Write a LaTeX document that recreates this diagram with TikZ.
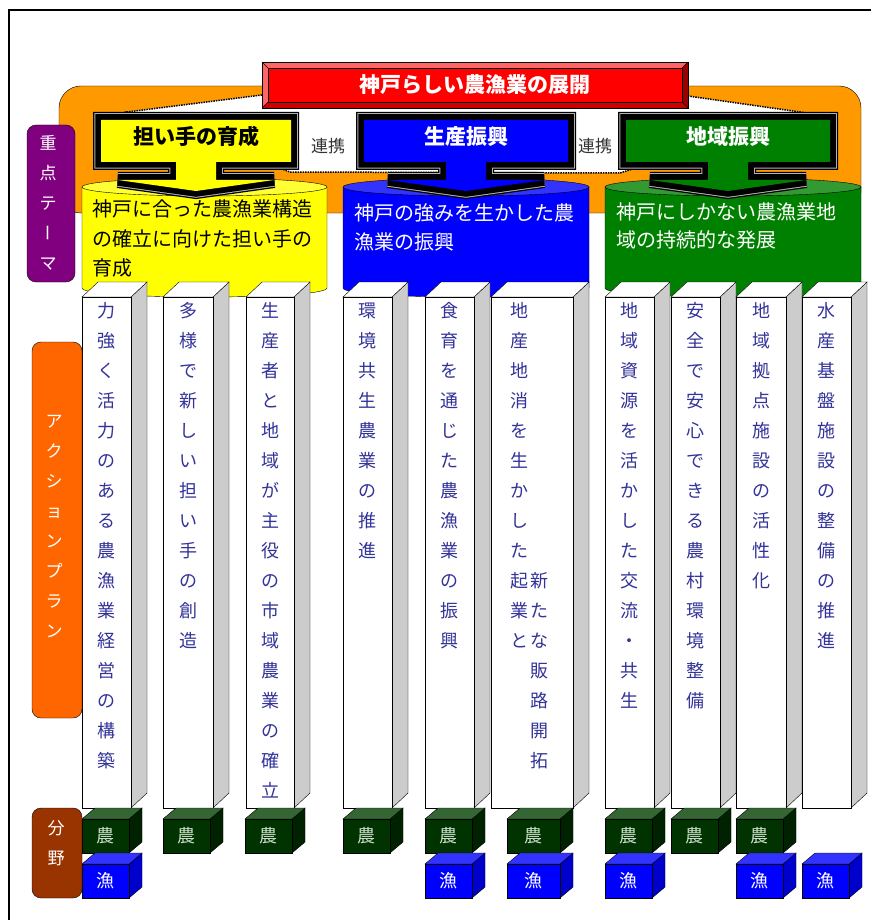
\documentclass[tikz,border=0pt]{standalone}
\usepackage{fontspec}
\setmainfont{Noto Sans CJK JP}

\definecolor{bandorange}{HTML}{FF9900}
\definecolor{titlered}{HTML}{FF0000}
\definecolor{titlelight}{HTML}{FF6666}
\definecolor{titledark}{HTML}{990000}
\definecolor{titlemid}{HTML}{CC0000}
\definecolor{themepurple}{HTML}{800080}
\definecolor{planorange}{HTML}{FF6600}
\definecolor{fieldbrown}{HTML}{993300}
\definecolor{yelbody}{HTML}{FFFF00}
\definecolor{yeltop}{HTML}{FFFF33}
\definecolor{bluebody}{HTML}{0000FF}
\definecolor{bluetop}{HTML}{3333FF}
\definecolor{greenbody}{HTML}{008000}
\definecolor{greentop}{HTML}{339933}
\definecolor{pillarside}{HTML}{CCCCCC}
\definecolor{navytext}{HTML}{333399}
\definecolor{linkgray}{HTML}{333333}
\definecolor{noufront}{HTML}{003300}
\definecolor{noutop}{HTML}{336633}
\definecolor{nouside}{HTML}{002200}
\definecolor{noutext}{HTML}{C8DCC8}
\definecolor{gyofront}{HTML}{0000FF}
\definecolor{gyotop}{HTML}{3333FF}
\definecolor{gyoside}{HTML}{0000CC}
\definecolor{gyotext}{HTML}{FFFFFF}

\tikzset{
    vch/.style={inner sep=0pt, text=navytext, font=\fontsize{18}{18}\selectfont,
        text height=15.84pt, text depth=2.16pt},
    lab/.style={inner sep=0pt, text=white, font=\fontsize{17}{17}\selectfont,
        text height=14.96pt, text depth=2.04pt},
    cyltext/.style={inner sep=0pt, anchor=west, font=\fontsize{20}{20}\selectfont,
        text height=17.6pt, text depth=2.4pt},
    headtext/.style={inner sep=0pt, font=\fontsize{21}{21}\selectfont\bfseries,
        text height=18.48pt, text depth=2.52pt},
    linktext/.style={inner sep=0pt, text=linkgray, font=\fontsize{17}{17}\selectfont},
    labelbox/.style={draw, rounded corners=9, inner sep=0pt},
    tagface/.style={draw, inner sep=0pt, minimum height=34, font=\fontsize{18}{18}\selectfont},
    callout/.style={preaction={draw=black, line width=16pt},
        preaction={draw=gray!60, line width=13.5pt},
        preaction={draw=black, line width=11.5pt},
        fill=#1, miter limit=4},
}

% 3D pillar: left x, front width
\newcommand\pillar[2]{
    \draw[fill=pillarside] (#1+#2,297) -- ++(16,-15) -- ++(0,511) -- ++(-16,15) -- cycle;
    \draw[fill=white] (#1,297) -- ++(16,-15) -- ++(#2,0) -- ++(-16,15) -- cycle;
    \draw[fill=white] (#1,297) rectangle ++(#2,511);
}
% vertical text: [style] name, x, first y, characters
\newcommand\vstack[5][vch]{
    \foreach \ch [count=\i from 0] in {#5}
        \node[#1] (#2-\i) at (#3,{#4+30*\i}) {\ch};
}
% small cube: name, left x, top y, width, kind, text
\newcommand\tagcube[6]{
    \draw[fill=#5side] (#2+#4,#3) -- ++(13,-11) -- ++(0,34) -- ++(-13,11) -- cycle;
    \draw[fill=#5top] (#2,#3) -- ++(13,-11) -- ++(#4,0) -- ++(-13,11) -- cycle;
    \node[tagface, fill=#5front, text=#5text, minimum width=#4] (#1) at ({#2+#4/2},#3+17) {#6};
}
% cylinder: left x, right x, body colour, top colour
\newcommand\cylinder[4]{
    \draw[fill=#3] (#1,187) -- (#1,288) .. controls (#1,300) and (#2,300) .. (#2,288) -- (#2,187) -- cycle;
    \draw[fill=#4] ({(#1+#2)/2},187) ellipse[x radius={(#2-#1)/2}, y radius=9];
}
% down-arrow callout: name, centre x, half width, fill, text colour, text
\newcommand\callout[6]{
    \path[callout=#4] (#2-#3,120) -- (#2+#3,120) -- (#2+#3,162) -- (#2+20,162)
        -- (#2+20,180) -- (#2+78,180) -- (#2,191) -- (#2-78,180) -- (#2-20,180)
        -- (#2-20,162) -- (#2-#3,162) -- cycle;
    \node[headtext, text=#5] (#1) at (#2,137) {#6};
}

\begin{document}
\begin{tikzpicture}[x=1pt, y=-1pt]
    \useasboundingbox (0,0) rectangle (871,920);
    \fill[white] (0,0) rectangle (871,920);
    \draw[line width=2] (9,920) -- (9,10) -- (871,10);

    % theme band
    \draw[fill=bandorange, rounded corners=22] (59,86) rectangle (861,213);
    \draw[fill=white, densely dotted, line width=1.5] (262,95) -- (127,112) -- (290,172)
        -- (620,173) -- (807,113) -- (688,96) -- cycle;

    \cylinder{82}{327}{yelbody}{yeltop}
    \cylinder{343}{589}{bluebody}{bluetop}
    \cylinder{605}{861}{greenbody}{greentop}

    \node[cyltext] (y1) at (92,209) {神戸に合った農漁業構造};
    \node[cyltext] (y2) at (92,239) {の確立に向けた担い手の};
    \node[cyltext] (y3) at (92,268) {育成};
    \node[cyltext, text=white] (b1) at (354,213) {神戸の強みを生かした農};
    \node[cyltext, text=white] (b2) at (354,242) {漁業の振興};
    \node[cyltext, text=white] (g1) at (616,212) {神戸にしかない農漁業地};
    \node[cyltext, text=white] (g2) at (616,240) {域の持続的な発展};

    \callout{c1}{196}{95}{yelbody}{black}{担い手の育成}
    \callout{c2}{466}{102}{bluebody}{white}{生産振興}
    \callout{c3}{728}{102}{greenbody}{white}{地域振興}
    \node[linktext] (link1) at (328,146) {連携};
    \node[linktext] (link2) at (595,146) {連携};

    % title
    \fill[titlelight] (262,62) rectangle (688,108);
    \fill[titledark] (688,62) -- (688,108) -- (682,102) -- (682,68) -- cycle;
    \fill[titlemid] (262,108) -- (688,108) -- (682,102) -- (268,102) -- cycle;
    \draw (262,62) rectangle (688,108);
    \draw (262,62) -- (268,68) (688,62) -- (682,68) (262,108) -- (268,102) (688,108) -- (682,102);
    \node[draw, fill=titlered, minimum width=414, minimum height=34, headtext, text=white]
        (title) at (475,85) {神戸らしい農漁業の展開};

    % action plans
    \pillar{82}{49}
    \vstack{p1}{106.5}{311}{力,強,く,活,力,の,あ,る,農,漁,業,経,営,の,構,築}
    \pillar{163}{50}
    \vstack{p2}{188}{311}{多,様,で,新,し,い,担,い,手,の,創,造}
    \pillar{246}{48}
    \vstack{p3}{270}{311}{生,産,者,と,地,域,が,主,役,の,市,域,農,業,の,確,立}
    \pillar{343}{49}
    \vstack{p4}{367.5}{311}{環,境,共,生,農,業,の,推,進}
    \pillar{425}{49}
    \vstack{p5}{449.5}{311}{食,育,を,通,じ,た,農,漁,業,の,振,興}
    \pillar{491}{82}
    \vstack{p6a}{519}{311}{地,産,地,消,を,生,か,し,た,起,業,と}
    \vstack{p6b}{539}{581}{新,た,な,販,路,開,拓}
    \pillar{605}{49}
    \vstack{p7}{629.5}{311}{地,域,資,源,を,活,か,し,た,交,流,・,共,生}
    \pillar{671}{49}
    \vstack{p8}{695.5}{311}{安,全,で,安,心,で,き,る,農,村,環,境,整,備}
    \pillar{736}{50}
    \vstack{p9}{761}{311}{地,域,拠,点,施,設,の,活,性,化}
    \pillar{802}{49}
    \vstack{p10}{826.5}{311}{水,産,基,盤,施,設,の,整,備,の,推,進}

    % fields
    \tagcube{n1}{82}{819}{47}{nou}{農}
    \tagcube{f1}{82}{864}{47}{gyo}{漁}
    \tagcube{n2}{163}{819}{47}{nou}{農}
    \tagcube{n3}{245}{819}{47}{nou}{農}
    \tagcube{n4}{343}{819}{47}{nou}{農}
    \tagcube{n5}{425}{819}{47}{nou}{農}
    \tagcube{f5}{425}{864}{47}{gyo}{漁}
    \tagcube{n6}{507}{819}{53}{nou}{農}
    \tagcube{f6}{507}{864}{53}{gyo}{漁}
    \tagcube{n7}{605}{819}{47}{nou}{農}
    \tagcube{f7}{605}{864}{47}{gyo}{漁}
    \tagcube{n8}{671}{819}{47}{nou}{農}
    \tagcube{n9}{736}{819}{47}{nou}{農}
    \tagcube{f9}{736}{864}{47}{gyo}{漁}
    \tagcube{f10}{802}{864}{47}{gyo}{漁}

    % side labels
    \node[labelbox, fill=themepurple, minimum width=48, minimum height=157] (theme) at (51,203.5) {};
    \vstack[lab]{th}{48}{143}{重,点,テ}
    \node[lab, rotate=90] (th-3) at (48,233) {ー};
    \node[lab] (th-4) at (48,263) {マ};
    \node[labelbox, fill=planorange, minimum width=50, minimum height=376] (plan) at (57,530) {};
    \vstack[lab]{ap}{54}{421}{ア,ク,シ,ョ,ン,プ,ラ,ン}
    \node[labelbox, fill=fieldbrown, minimum width=50, minimum height=90] (field) at (57,853) {};
    \vstack[lab]{fd}{56}{828}{分,野}
\end{tikzpicture}
\end{document}
